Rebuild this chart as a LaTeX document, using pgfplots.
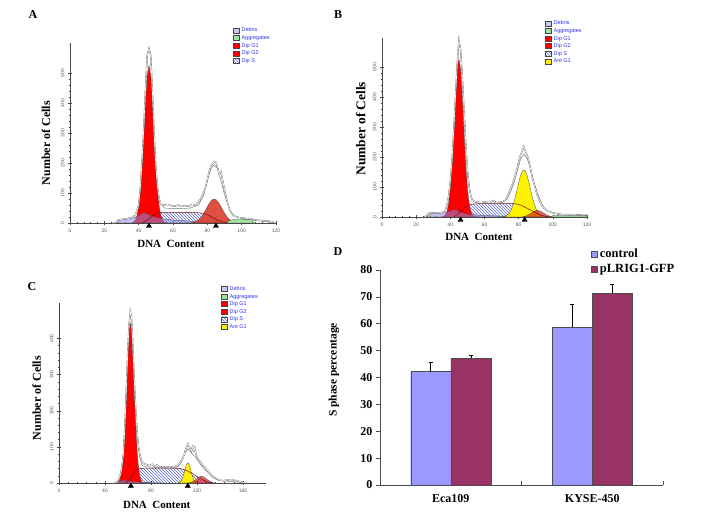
\documentclass[border=0pt]{standalone}
\usepackage{fontspec}
\setmainfont{Liberation Serif}
\newfontfamily\arialfont{Liberation Sans}
\usepackage{pgfplots}
\usepackage{pgfplotstable}
\pgfplotsset{compat=1.18}
\usetikzlibrary{patterns}

\definecolor{debris}{RGB}{140,140,225}
\definecolor{debrisleg}{RGB}{200,200,240}
\definecolor{aggr}{RGB}{160,228,160}
\definecolor{legblue}{RGB}{50,50,235}
\definecolor{hatch}{RGB}{90,100,210}
\definecolor{darkred}{RGB}{120,15,15}
\definecolor{gtwo}{RGB}{220,60,45}
\definecolor{ctrl}{RGB}{153,153,255}
\definecolor{plrig}{RGB}{153,51,102}
\definecolor{outl}{RGB}{70,70,70}

% S phase (hatched) of each histogram
\pgfplotstableread{
x y
42 0
44 6
46 14
48 24
50 31
52 34
56 35
60 35
65 35
70 35
75 34
78 32
80 28
82 22
84 16
86 10
88 5
90 2
92 0
}\sA
\pgfplotstableread{
x y
42 0
44 8
46 18
48 30
50 38
52 42
55 44
60 45
65 45
70 45
75 45
78 44
80 42
82 38
84 32
86 26
88 20
90 14
92 9
94 5
96 2
98 0
}\sB
\pgfplotstableread{
x y
58 0
60 5
62 12
64 22
66 32
68 38
70 40
75 41
80 41
90 41
100 41
105 40
108 38
112 33
116 26
120 18
124 11
128 5
132 1
134 0
}\sC

\pgfplotsset{
  hist/.style={
    scale only axis, axis x line=bottom, axis y line=left,
    axis line style={-, outl, line width=0.5pt},
    tick align=center, major tick length=4pt, minor tick length=2.4pt,
    tick style={outl, line width=0.4pt},
    minor x tick num=4, minor y tick num=4,
    ymin=0, clip=false,
    tick label style={font=\arialfont\fontsize{5}{6}\selectfont, text=black!65},
    /pgf/number format/assume math mode=true,
    yticklabel style={rotate=90, anchor=south},
    xlabel style={font=\bfseries\fontsize{11}{13}\selectfont, anchor=center},
    ylabel style={font=\bfseries\fontsize{12}{14}\selectfont, anchor=center},
    legend cell align=left,
    legend style={draw=none, fill=none, anchor=north west, inner sep=0pt,
      font=\arialfont\fontsize{5.5}{6}\selectfont, text=legblue, row sep=2.2pt,
      nodes={inner ysep=0pt, inner xsep=2pt, text height=4.2pt, text depth=1.2pt, text=legblue}},
    legend image code/.code={\draw[##1, draw=outl, line width=0.4pt] (0pt,-2.5pt) rectangle (6pt,2.5pt);},
  },
  comp/.style={draw=outl, line width=0.3pt, forget plot},
  raw/.style={draw=black!60, double=white, double distance=0.6pt, line width=0.35pt, forget plot},
  fit/.style={draw=black!55, line width=0.45pt, forget plot},
  tri/.style={only marks, mark=triangle*, mark size=3pt, black, forget plot},
}

\begin{document}
\begin{tikzpicture}
\useasboundingbox (0,0) rectangle (708pt,514pt);

% ---------- A
\begin{axis}[hist, at={(70pt,291pt)}, anchor=south west, width=206pt, height=180pt,
  xmin=0, xmax=120, ymax=600, xtick={0,20,...,120}, ytick={0,100,...,500},
  xlabel={DNA~~Content}, ylabel={Number of Cells},
  xlabel style={at={(axis description cs:0.49,-0.117)}},
  ylabel style={at={(axis description cs:-0.117,0.444)}},
  legend style={at={(0.791,1.086)}}]
\addlegendimage{fill=debrisleg}\addlegendentry{Debris}
\addlegendimage{fill=aggr}\addlegendentry{Aggregates}
\addlegendimage{fill=red}\addlegendentry{Dip G1}
\addlegendimage{fill=red}\addlegendentry{Dip G2}
\addlegendimage{pattern=north west lines, pattern color=hatch}\addlegendentry{Dip S}
\addplot[forget plot, draw=none, pattern=north west lines, pattern color=hatch] table {\sA} \closedcycle;
\addplot[comp, fill=red] coordinates {
(36,0) (37,3) (38,9) (39,23) (40,53) (41,107) (42,189) (43,296) (44,407) (45,492) (46,525)
(47,492) (48,407) (49,296) (50,189) (51,107) (52,53) (53,23) (54,9) (55,3) (56,0)} \closedcycle;
\addplot[comp, fill=debris, fill opacity=0.55] coordinates {
(27,0) (28,8) (30,12) (33,14) (36,16) (39,20) (41,28) (43,35) (45,30) (48,22) (52,16)
(56,12) (60,10) (65,8) (70,6) (75,5) (80,4) (85,2) (90,0)} \closedcycle;
\addplot[comp, fill=gtwo, fill opacity=0.9] coordinates {
(71,0) (72,2) (73,4) (74,7) (75,11) (76,16.5) (77,24) (78,33) (79,43) (80,54) (81,64) (82,72)
(83,78) (84,80) (85,78) (86,72) (87,64) (88,54) (89,43) (90,33) (91,24) (92,16.5) (93,11)
(94,7) (95,4) (96,2) (97,0)} \closedcycle;
\addplot[comp, fill=aggr] coordinates {
(90,0) (92,5) (94,10) (96,12) (98,13) (100,13) (102,12) (104,12) (106,11) (107,0)} \closedcycle;
\addplot[forget plot, darkred, line width=0.5pt] table {\sA};
\addplot[fit] coordinates {
(52,70) (55,50) (60,48) (65,48) (70,50) (75,60) (78,95) (80,140) (82,180) (84,195) (86,180)
(88,140) (90,95) (92,60) (94,35) (96,22) (100,16) (106,13) (108,8) (112,6) (118,3) (120,0)};
\addplot[raw] coordinates {
(25,0) (27,3) (28,10) (30,12) (33,14) (36,18) (38,25) (40,60) (41,120) (42,210) (43,320)
(44,450) (45,560) (46,582) (47,560) (48,440) (49,300) (50,190) (51,120) (52,80) (53,62)
(55,60) (57,62) (59,58) (61,56) (63,60) (65,55) (67,58) (69,56) (71,62) (73,60) (75,70)
(77,90) (79,120) (80,145) (81,170) (82,188) (83,198) (84,205) (85,203) (86,185) (87,160)
(88,170) (89,140) (90,110) (91,85) (92,62) (93,45) (94,32) (95,25) (97,20) (100,17)
(103,15) (106,14) (107,10) (110,9) (113,7) (116,6) (118,4) (119,2) (120,0)};
\addplot[tri] coordinates {(46,-10) (85,-10)};
\end{axis}

% ---------- B
\begin{axis}[hist, at={(382pt,297pt)}, anchor=south west, width=205pt, height=179pt,
  xmin=0, xmax=120, ymax=597, xtick={0,20,...,120}, ytick={0,100,...,500},
  xlabel={DNA~~Content}, ylabel={Number of Cells},
  xlabel style={at={(axis description cs:0.473,-0.11)}},
  ylabel style={font=\bfseries\fontsize{13.4}{15}\selectfont, at={(axis description cs:-0.104,0.493)}},
  legend style={at={(0.795,1.098)}}]
\addlegendimage{fill=debrisleg}\addlegendentry{Debris}
\addlegendimage{fill=aggr}\addlegendentry{Aggregates}
\addlegendimage{fill=red}\addlegendentry{Dip G1}
\addlegendimage{fill=red}\addlegendentry{Dip G2}
\addlegendimage{pattern=north west lines, pattern color=hatch}\addlegendentry{Dip S}
\addlegendimage{fill=yellow}\addlegendentry{Ant G1}
\addplot[forget plot, draw=none, pattern=north west lines, pattern color=hatch] table {\sB} \closedcycle;
\addplot[comp, fill=red] coordinates {
(35,0) (36,2) (37,7) (38,18) (39,45) (40,95) (41,176) (42,285) (43,401) (44,493) (45,528)
(46,493) (47,401) (48,285) (49,176) (50,95) (51,45) (52,18) (53,7) (54,2) (55,0)} \closedcycle;
\addplot[comp, fill=debris, fill opacity=0.55] coordinates {
(26,0) (27,6) (29,10) (32,12) (35,13) (38,16) (40,20) (42,25) (44,22) (46,16) (50,10)
(55,7) (60,5) (70,3) (80,2) (90,0)} \closedcycle;
\addplot[comp, fill=yellow] coordinates {
(72,0) (73,5) (74,9.5) (75,17) (76,29) (77,45) (78,66) (79,90) (80,115) (81,137) (82,152)
(83,157) (84,152) (85,137) (86,115) (87,90) (88,66) (89,45) (90,29) (91,17) (92,9.5) (93,5)
(94,0)} \closedcycle;
\addplot[comp, fill=red!85!black, fill opacity=0.6] coordinates {
(82,0) (84,3) (86,8) (88,15) (90,21) (91,22) (92,21) (94,15) (96,8) (98,3) (100,1) (101,0)} \closedcycle;
\addplot[comp, fill=aggr] coordinates {
(98,0) (100,4) (105,5) (110,5) (115,5) (120,4)} \closedcycle;
\addplot[forget plot, darkred, line width=0.5pt] table {\sB};
\addplot[fit] coordinates {
(50,140) (52,65) (55,48) (60,46) (65,46) (70,48) (73,58) (75,80) (77,110) (79,150) (81,190)
(83,210) (85,195) (87,160) (89,115) (91,80) (93,50) (95,30) (97,20) (100,13) (105,9)
(110,7) (120,6)};
\addplot[raw] coordinates {
(25,0) (26,5) (27,12) (29,14) (32,14) (35,15) (37,20) (38,40) (39,70) (40,120) (41,190)
(42,290) (43,400) (44,510) (45,590) (46,560) (47,470) (48,360) (49,250) (50,160) (51,100)
(52,70) (53,55) (55,50) (58,48) (60,50) (63,48) (65,55) (67,48) (70,50) (72,55) (73,65)
(75,90) (77,120) (79,160) (80,185) (81,205) (82,220) (83,235) (84,218) (85,205) (86,185)
(87,160) (88,130) (89,110) (90,90) (91,72) (92,58) (93,45) (94,35) (95,28) (97,20) (100,14)
(103,10) (106,8) (110,8) (115,7) (120,8)};
\addplot[tri] coordinates {(46,-10) (83.5,-10)};
\end{axis}

% ---------- C
\begin{axis}[hist, at={(59pt,31pt)}, anchor=south west, width=207pt, height=180pt,
  xmin=0, xmax=180, ymax=498, xtick={0,40,...,160}, ytick={0,100,...,400},
  xlabel={DNA~~Content}, ylabel={Number of Cells},
  xlabel style={at={(axis description cs:0.472,-0.122)}},
  ylabel style={at={(axis description cs:-0.108,0.472)}},
  legend style={at={(0.783,1.094)}}]
\addlegendimage{fill=debrisleg}\addlegendentry{Debris}
\addlegendimage{fill=aggr}\addlegendentry{Aggregates}
\addlegendimage{fill=red}\addlegendentry{Dip G1}
\addlegendimage{fill=red}\addlegendentry{Dip G2}
\addlegendimage{pattern=north west lines, pattern color=hatch}\addlegendentry{Dip S}
\addlegendimage{fill=yellow}\addlegendentry{Ant G1}
\addplot[forget plot, draw=none, pattern=north west lines, pattern color=hatch] table {\sC} \closedcycle;
\addplot[comp, fill=red] coordinates {
(51,0) (52,4.5) (53,11) (54,23) (55,47) (56,85) (57,140) (58,212) (59,292) (60,368) (61,422)
(62,442) (63,422) (64,368) (65,292) (66,212) (67,140) (68,85) (69,47) (70,23) (71,11)
(72,4.5) (73,0)} \closedcycle;
\addplot[comp, fill=debris, fill opacity=0.55] coordinates {
(48,0) (50,4) (53,6) (56,8) (60,6) (70,3) (80,1) (90,0)} \closedcycle;
\addplot[comp, fill=yellow] coordinates {
(104,0) (105,2) (106,5) (107,10) (108,19) (109,30) (110,43) (111,52) (112,56) (113,52)
(114,43) (115,30) (116,19) (117,10) (118,5) (119,2) (120,0)} \closedcycle;
\addplot[comp, fill=red!85!black, fill opacity=0.6] coordinates {
(113,0) (115,2) (117,5) (119,9) (121,14) (123,18) (124,19) (125,18) (127,14) (129,9)
(131,5) (133,2) (135,0)} \closedcycle;
\addplot[forget plot, darkred, line width=0.5pt] table {\sC};
\addplot[fit] coordinates {
(66,240) (68,130) (70,75) (72,50) (75,45) (80,44) (90,42) (100,42) (104,46) (106,55)
(108,70) (110,85) (112,95) (114,88) (116,80) (118,74) (120,65) (123,52) (126,40) (130,28)
(134,15) (138,8) (145,5) (150,4) (160,1) (162,0)};
\addplot[raw] coordinates {
(48,0) (50,3) (52,10) (54,30) (56,80) (57,140) (58,210) (59,300) (60,380) (61,440) (62,475)
(63,460) (64,400) (65,320) (66,250) (67,190) (68,140) (69,105) (70,85) (71,70) (72,60)
(73,55) (75,52) (77,50) (79,48) (81,52) (83,46) (85,50) (87,44) (90,45) (95,44) (100,45)
(103,48) (105,55) (107,65) (109,80) (110,92) (111,100) (112,108) (113,102) (114,95)
(115,88) (116,100) (117,90) (118,98) (119,80) (120,72) (122,62) (125,50) (128,38) (131,28)
(134,18) (137,12) (140,8) (143,6) (146,9) (149,7) (152,8) (155,5) (158,4) (160,2) (162,0)};
\addplot[tri] coordinates {(62.5,-8.3) (112,-8.3)};
\end{axis}

% ---------- D
\begin{axis}[at={(380pt,29pt)}, anchor=south west, scale only axis, width=283pt, height=215pt,
  xmin=0.5, xmax=2.5, ymin=0, ymax=80, ytick={0,10,...,80},
  axis x line=bottom, axis y line=left, axis line style={-, black!70, line width=0.6pt},
  tick style={black!70, line width=0.6pt}, tick align=outside, major tick length=4pt,
  xtick={1.5,2.5}, xticklabels={}, xtick style={yshift=4pt},
  extra x ticks={1,2}, extra x tick labels={Eca109,KYSE-450},
  extra x tick style={major tick length=0pt, tick label style={yshift=-6pt}},
  tick label style={font=\bfseries\fontsize{12}{14}\selectfont},
  /pgf/number format/assume math mode=true,
  ylabel={S phase percentage},
  ylabel style={font=\bfseries\fontsize{11.5}{13}\selectfont, at={(axis description cs:-0.163,0.535)}, anchor=center},
  legend cell align=left,
  legend style={at={(0.745,1.1)}, anchor=north west, draw=none, fill=none, inner sep=0pt, row sep=2.8pt,
    font=\bfseries\fontsize{12.5}{14}\selectfont,
    nodes={inner ysep=0pt, inner xsep=2.5pt, text height=9pt, text depth=2.5pt}},
  legend image code/.code={\draw[#1, draw=black!70, line width=0.4pt] (0pt,-3pt) rectangle (6pt,3pt);},
  ]
\addlegendimage{fill=ctrl}\addlegendentry{control}
\addlegendimage{fill=plrig}\addlegendentry{pLRIG1-GFP}
% control bars, left of each category centre
\addplot[ybar, bar width=0.283, bar shift=0pt, fill=ctrl, draw=black!70, line width=0.4pt, forget plot,
  error bars/.cd, y dir=plus, y explicit, error bar style={black, line width=0.5pt},
  error mark options={rotate=90, black, mark size=2pt, line width=0.5pt}]
  coordinates {(0.8585,42.2) +- (0,3.3) (1.8585,58.7) +- (0,8.6)};
% pLRIG1-GFP bars, right of each category centre
\addplot[ybar, bar width=0.283, bar shift=0pt, fill=plrig, draw=black!70, line width=0.4pt, forget plot,
  error bars/.cd, y dir=plus, y explicit, error bar style={black, line width=0.5pt},
  error mark options={rotate=90, black, mark size=2pt, line width=0.5pt}]
  coordinates {(1.1415,47.2) +- (0,0.9) (2.1415,71.3) +- (0,3.3)};
\end{axis}

\node[font=\bfseries\fontsize{12}{14}\selectfont] at (33pt,499pt) {A};
\node[font=\bfseries\fontsize{12}{14}\selectfont] at (338pt,499pt) {B};
\node[font=\bfseries\fontsize{12}{14}\selectfont] at (32pt,227pt) {C};
\node[font=\bfseries\fontsize{12}{14}\selectfont] at (338pt,262pt) {D};
\end{tikzpicture}
\end{document}
